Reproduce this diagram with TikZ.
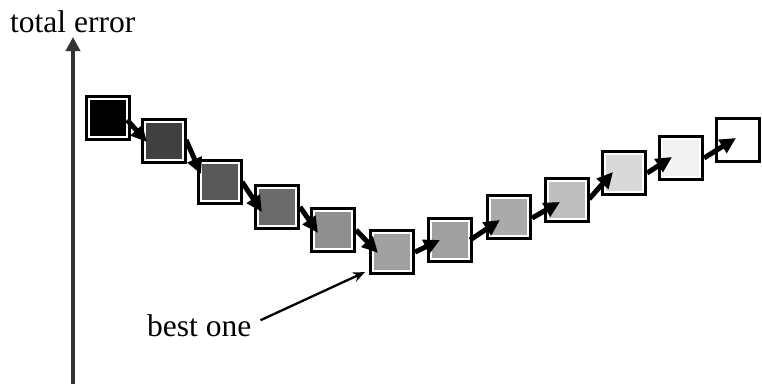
\documentclass[tikz,border=0pt]{standalone}
\usepackage{fontspec}
\setmainfont{Liberation Serif}
\usetikzlibrary{arrows.meta}

% shade for each step box
\definecolor{s1}{HTML}{000000}
\definecolor{s2}{HTML}{404040}
\definecolor{s3}{HTML}{595959}
\definecolor{s4}{HTML}{6B6B6B}
\definecolor{s5}{HTML}{8F8F8F}
\definecolor{s6}{HTML}{A0A0A0}
\definecolor{s7}{HTML}{A0A0A0}
\definecolor{s8}{HTML}{AAAAAA}
\definecolor{s9}{HTML}{BEBEBE}
\definecolor{s10}{HTML}{D9D9D9}
\definecolor{s11}{HTML}{F2F2F2}
\definecolor{s12}{HTML}{FFFFFF}
\definecolor{axisgray}{HTML}{333333}

\tikzset{
  stepbox/.style={draw=black, line width=3.2pt, fill=white, inner sep=0pt,
    minimum size=43pt, shape=rectangle,
    path picture={\fill[#1] (path picture bounding box.center)
      +(-18pt,-18pt) rectangle +(18pt,18pt);}},
  steparrow/.style={line width=5pt, -{Triangle[length=16pt,width=15pt]}},
  axisline/.style={draw=axisgray, line width=3.5pt, -{Triangle[length=14pt,width=14pt]}},
  caption/.style={font=\fontsize{31.5}{36}\selectfont, inner sep=0pt, anchor=base west},
  pointer/.style={line width=2.3pt, -{Stealth[length=12pt,width=10pt]}}
}

\begin{document}
\begin{tikzpicture}[x=1pt, y=-1pt]
  \useasboundingbox (0,0) rectangle (762,384);

  % vertical axis
  \coordinate (axbot) at (73,384);
  \coordinate (axtop) at (73,37);
  \draw[axisline] (axbot) -- (axtop);
  \node[caption] (ylab) at (10,32) {total error};

  % the sequence of steps
  \node[stepbox=s1]  (b1)  at (108,118) {};
  \node[stepbox=s2]  (b2)  at (164,141) {};
  \node[stepbox=s3]  (b3)  at (220,182) {};
  \node[stepbox=s4]  (b4)  at (277,207) {};
  \node[stepbox=s5]  (b5)  at (333,230) {};
  \node[stepbox=s6]  (b6)  at (392,252) {};
  \node[stepbox=s7]  (b7)  at (450,240) {};
  \node[stepbox=s8]  (b8)  at (509,217) {};
  \node[stepbox=s9]  (b9)  at (567,200) {};
  \node[stepbox=s10] (b10) at (624,173) {};
  \node[stepbox=s11] (b11) at (681,158) {};
  \node[stepbox=s12] (b12) at (738,140) {};

  % transitions between consecutive steps
  \draw[steparrow] ([shift={(-4,2)}]b1.east)  -- ([shift={(-17,1)}]b2.center);
  \draw[steparrow] ([shift={(-1,-1)}]b2.east) -- ([shift={(-19,-8)}]b3.center);
  \draw[steparrow] ([shift={(-1,0)}]b3.east)  -- ([shift={(-15,5)}]b4.center);
  \draw[steparrow] (b4.east)  -- ([shift={(-15,3)}]b5.center);
  \draw[steparrow] (b5.east)  -- ([shift={(-14,1)}]b6.center);
  \draw[steparrow] (b6.east)  -- ([shift={(-10,0)}]b7.center);
  \draw[steparrow] ([shift={(-3,0)}]b7.east)  -- ([shift={(-9,3)}]b8.center);
  \draw[steparrow] ([shift={(0,1)}]b8.east)   -- ([shift={(-7,2)}]b9.center);
  \draw[steparrow] ([shift={(-1,-1)}]b9.east) -- ([shift={(-11,-1)}]b10.center);
  \draw[steparrow] (b10.east) -- ([shift={(-9,-1)}]b11.center);
  \draw[steparrow] (b11.east) -- ([shift={(-2,-2)}]b12.center);

  % label for the minimum
  \node[caption] (best) at (147,336) {best one};
  \draw[pointer] ([shift={(9,-5)}]best.east) -- ([shift={(-4,-3)}]b6.south west);
\end{tikzpicture}
\end{document}
